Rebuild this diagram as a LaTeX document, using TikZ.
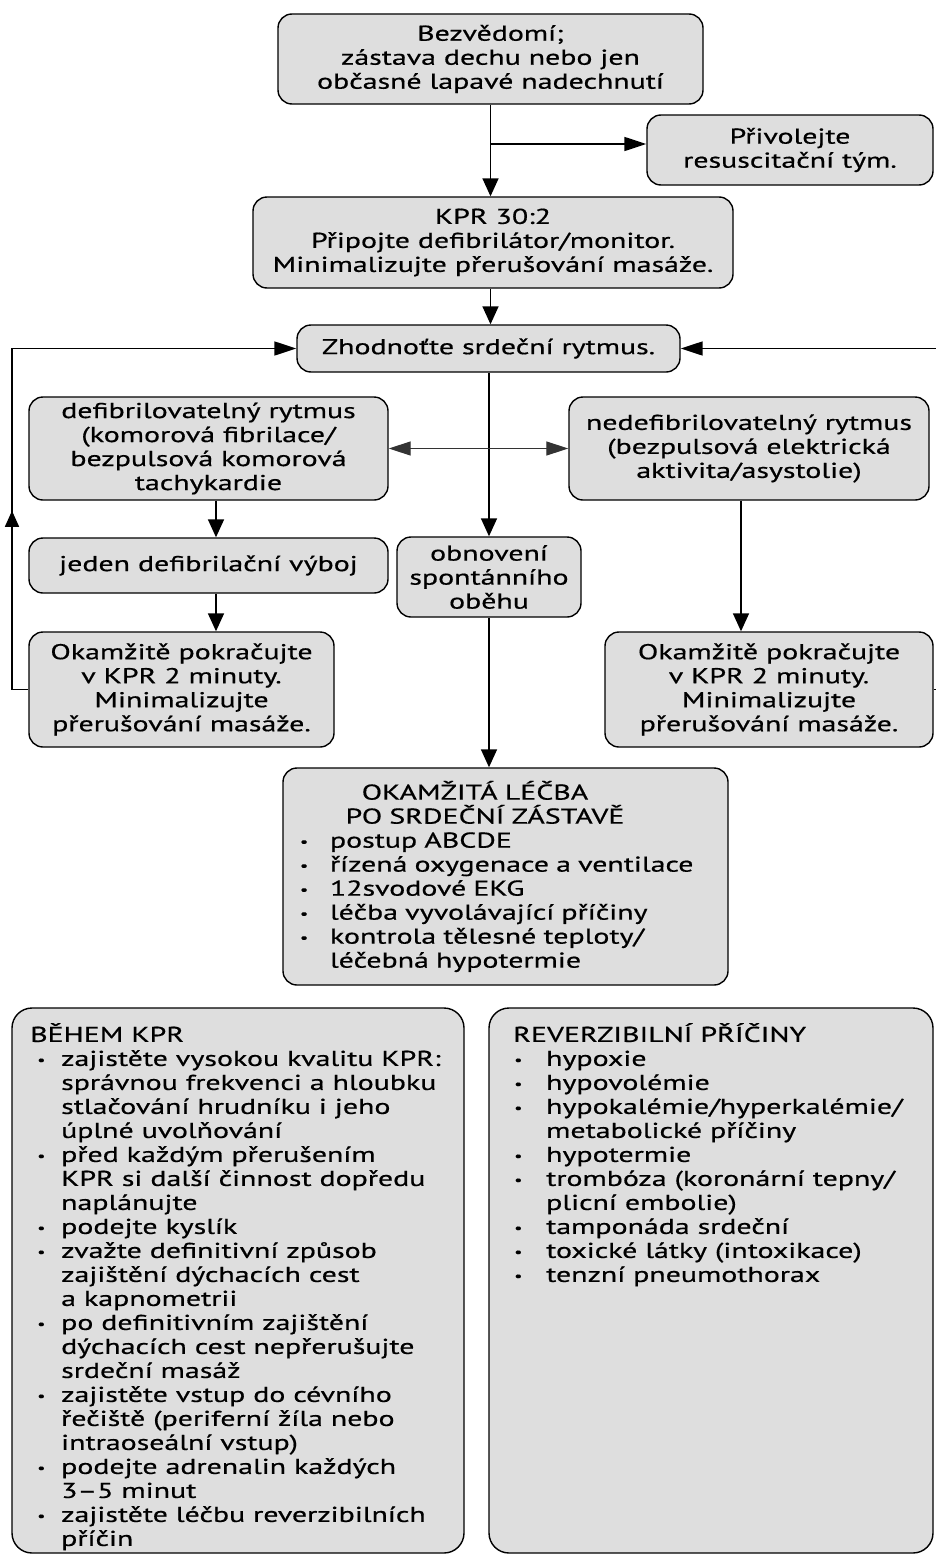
\documentclass[tikz,border=0pt]{standalone}
\usepackage{fontspec}
\setmainfont{PT Sans}[FakeStretch=1.39,FakeBold=0.6]
\usetikzlibrary{arrows.meta,decorations.markings}
\definecolor{boxgray}{gray}{0.87}
\newcommand{\fs}{\fontsize{21.5}{24}\selectfont}
\newcommand{\bu}{\raisebox{1.5pt}{\fontsize{13}{13}\selectfont\textbullet}}
\newcommand{\ia}{\hspace*{7pt}\makebox[24pt][l]{\bu}}
\newcommand{\ca}{\hspace*{31pt}}
\newcommand{\ib}{\hspace*{1pt}\makebox[32pt][l]{\bu}}
\newcommand{\cb}{\hspace*{33pt}}
\newcommand{\ic}{\makebox[30pt][l]{\bu}}
\newcommand{\cc}{\hspace*{30pt}}
\begin{document}
\begin{tikzpicture}[x=1pt,y=-1pt,
  box/.style={draw, line width=1.4pt, rounded corners=14pt, fill=boxgray, align=center, inner sep=0pt, font=\fs},
  bigbox/.style={draw, line width=1.4pt, rounded corners=20pt, fill=boxgray, inner sep=0pt},
  txt/.style={align=left, inner sep=0pt, font=\fs},
  conn/.style={line width=1.6pt},
  vtip/.style={-{Triangle[length=18pt,width=16pt]}},
  htip/.style={-{Triangle[length=22pt,width=14pt]}}]
\useasboundingbox (0,0) rectangle (935,1555);
\fill[white] (0,0) rectangle (935,1555);

\node[box, minimum width=425pt, minimum height=90pt] (b1) at (490.5,59) {Bezvědomí;\\zástava dechu nebo jen\\občasné lapavé nadechnutí};
\node[box, minimum width=286pt, minimum height=70pt] (call) at (790,150) {Přivolejte\\resuscitační tým.};
\node[box, minimum width=480pt, minimum height=91pt] (kpr) at (493,242.5) {KPR 30:2\\Připojte defibrilátor/monitor.\\Minimalizujte přerušování masáže.};
\node[box, minimum width=383pt, minimum height=47pt] (rhythm) at (488.5,348.5) {Zhodnoťte srdeční rytmus.};
\node[box, minimum width=359pt, minimum height=103pt] (shock) at (208.5,448.5) {defibrilovatelný rytmus\\(komorová fibrilace/\\bezpulsová komorová\\tachykardie};
\node[box, minimum width=360pt, minimum height=103pt] (nonshock) at (749,448.5) {nedefibrilovatelný rytmus\\(bezpulsová elektrická\\aktivita/asystolie)};
\node[box, minimum width=359pt, minimum height=55pt] (shock1) at (208.5,565.5) {jeden defibrilační výboj};
\node[box, minimum width=184pt, minimum height=80pt] (rosc) at (489,577) {obnovení\\spontánního\\oběhu};
\node[box, minimum width=305pt, minimum height=115pt] (cprL) at (181.5,689.5) {Okamžitě pokračujte\\v KPR 2 minuty.\\Minimalizujte\\přerušování masáže.};
\node[box, minimum width=328pt, minimum height=115pt] (cprR) at (769,689.5) {Okamžitě pokračujte\\v KPR 2 minuty.\\Minimalizujte\\přerušování masáže.};
\node[box, minimum width=445pt, minimum height=217pt, text width=411pt, align=left] (post) at (505.5,876.5) {\makebox[350pt]{OKAMŽITÁ LÉČBA}\\\makebox[370pt]{PO SRDEČNÍ ZÁSTAVĚ}\\\ic postup ABCDE\\\ic řízená oxygenace a ventilace\\\ic 12svodové EKG\\\ic léčba vyvolávající příčiny\\\ic kontrola tělesné teploty/\\\cc léčebná hypotermie};

\node[bigbox, minimum width=452pt, minimum height=545pt] (during) at (238,1280.5) {};
\node[bigbox, minimum width=444pt, minimum height=545pt] (causes) at (711,1280.5) {};
\node[txt, anchor=north west] (duringtext) at (30,1023) {BĚHEM KPR\\
\ia zajistěte vysokou kvalitu KPR:\\
\ca správnou frekvenci a hloubku\\
\ca stlačování hrudníku i jeho\\
\ca úplné uvolňování\\
\ia před každým přerušením\\
\ca KPR si další činnost dopředu\\
\ca naplánujte\\
\ia podejte kyslík\\
\ia zvažte definitivní způsob\\
\ca zajištění dýchacích cest\\
\ca a kapnometrii\\
\ia po definitivním zajištění\\
\ca dýchacích cest nepřerušujte\\
\ca srdeční masáž\\
\ia zajistěte vstup do cévního\\
\ca řečiště (periferní žíla nebo\\
\ca intraoseální vstup)\\
\ia podejte adrenalin každých\\
\ca 3–5 minut\\
\ia zajistěte léčbu reverzibilních\\
\ca příčin};
\node[txt, anchor=north west] (causestext) at (513,1023) {REVERZIBILNÍ PŘÍČINY\\
\ib hypoxie\\
\ib hypovolémie\\
\ib hypokalémie/hyperkalémie/\\
\cb metabolické příčiny\\
\ib hypotermie\\
\ib trombóza (koronární tepny/\\
\cb plicní embolie)\\
\ib tamponáda srdeční\\
\ib toxické látky (intoxikace)\\
\ib tenzní pneumothorax};

% connectors
\draw[conn, vtip] (b1.south) -- (b1.south |- kpr.north);
\coordinate (br) at (490.5,144);
\draw[conn, htip] (br) -- (br -| call.west);
\draw[conn, vtip] (b1.south |- kpr.south) -- (b1.south |- rhythm.north);
\draw[conn, vtip] (rhythm.south -| rosc.north) -- (rosc.north);
\draw[conn, vtip] (rosc.south) -- (rosc.south |- post.north);
\draw[line width=1.2pt, black!80, {Triangle[length=22pt,width=14pt]}-{Triangle[length=22pt,width=14pt]}] (shock.east) -- (nonshock.west);
\draw[conn, vtip] ([xshift=7.5pt]shock.south) -- ([xshift=7.5pt]shock1.north);
\draw[conn, vtip] ([xshift=7.5pt]shock1.south) -- ([xshift=7.5pt]shock1.south |- cprL.north);
\draw[conn, vtip] ([xshift=-8pt]nonshock.south) -- ([xshift=-8pt]nonshock.south |- cprR.north);
\coordinate (lx) at (12,689.5);
\draw[conn, htip, postaction={decorate}, decoration={markings, mark=at position 195pt with {\arrow{Triangle[length=16pt,width=14pt]}}}] (cprL.west) -- (lx) |- (rhythm.west);
\coordinate (rx) at (937,689.5);
\draw[conn, htip] (cprR.east) -- (rx) |- (rhythm.east);
\end{tikzpicture}
\end{document}
